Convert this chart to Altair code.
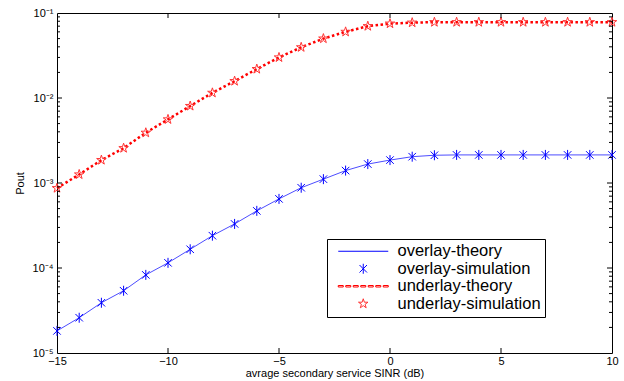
import altair as alt
import pandas as pd

# ---- data ----
snr_db = list(range(-15, 11))
overlay_pout = [1.82e-5, 2.6e-5, 3.9e-5, 5.4e-5, 8.3e-5, 1.15e-4, 1.66e-4, 2.4e-4,
                3.3e-4, 4.7e-4, 6.5e-4, 8.8e-4, 1.11e-3, 1.40e-3, 1.67e-3, 1.86e-3,
                2.04e-3, 2.12e-3, 2.14e-3, 2.14e-3, 2.14e-3, 2.14e-3, 2.14e-3,
                2.14e-3, 2.14e-3, 2.14e-3]
underlay_pout = [8.7e-4, 1.26e-3, 1.86e-3, 2.57e-3, 3.9e-3, 5.6e-3, 8.05e-3, 1.15e-2,
                 1.58e-2, 2.19e-2, 3.0e-2, 3.95e-2, 5.0e-2, 6.0e-2, 7.0e-2, 7.5e-2,
                 7.7e-2, 7.8e-2, 7.8e-2, 7.8e-2, 7.8e-2, 7.8e-2, 7.8e-2, 7.8e-2,
                 7.8e-2, 7.8e-2]
series_names = ["overlay-theory", "overlay-simulation", "underlay-theory", "underlay-simulation"]
x_major_ticks = [-15, -10, -5, 0, 5, 10]
y_major_ticks = [1e-5, 1e-4, 1e-3, 1e-2, 1e-1]
y_minor_ticks = [m * 10.0 ** e for e in range(-5, -1) for m in range(2, 10)]

W, H = 555, 340
FONT = "Liberation Sans"

overlay_df = pd.DataFrame({"x": snr_db, "y": overlay_pout, "series": "overlay-simulation"})
underlay_df = pd.DataFrame({"x": snr_db, "y": underlay_pout, "series": "underlay-simulation"})
points_df = pd.concat([overlay_df, underlay_df], ignore_index=True)

xscale = alt.Scale(domain=[-15, 10], nice=False, zero=False)
yscale = alt.Scale(type="log", domain=[1e-5, 1e-1], nice=False)

sup = ("datum.value < 5e-5 ? '\u2075' : datum.value < 5e-4 ? '\u2074' : "
       "datum.value < 5e-3 ? '\u00b3' : datum.value < 5e-2 ? '\u00b2' : '\u00b9'")

xaxis = alt.Axis(values=x_major_ticks, title="avrage secondary service SINR (dB)",
                 ticks=False, domain=False, grid=False, labelPadding=2, labelFlush=False,
                 labelFont=FONT, labelFontSize=11, labelColor="black",
                 titleFont=FONT, titleFontSize=11, titleFontWeight="normal",
                 titleColor="black", titlePadding=1)
yaxis = alt.Axis(values=y_major_ticks, title="Pout", ticks=False, domain=False, grid=False,
                 labelExpr="'10\u207b' + (" + sup + ")", labelFlush=False,
                 labelPadding=4, labelFont=FONT, labelFontSize=11, labelColor="black",
                 titleFont=FONT, titleFontSize=11, titleFontWeight="normal",
                 titleColor="black", titlePadding=7)

line_path = "M-5,0L5,0"
asterisk_path = "M0,-1L0,1M-0.75,-0.75L0.75,0.75M-0.75,0.75L0.75,-0.75"
dash_path = ("M-5,-0.15H-4V0.15H-5Z M-3.5,-0.15H-2.5V0.15H-3.5Z M-2,-0.15H-1V0.15H-2Z "
             "M-0.5,-0.15H0.5V0.15H-0.5Z M1,-0.15H2V0.15H1Z M2.5,-0.15H3.5V0.15H2.5Z "
             "M4,-0.15H5V0.15H4Z")
star_path = ("M0,-1L0.2245,-0.309L0.951,-0.309L0.3633,0.118L0.588,0.809L0,0.382"
             "L-0.588,0.809L-0.3633,0.118L-0.951,-0.309L-0.2245,-0.309Z")

X = lambda f: alt.X(f, scale=xscale, axis=xaxis)
Y = lambda f: alt.Y(f, scale=yscale, axis=yaxis)

blue_line = alt.Chart(overlay_df).mark_line(color="#0000ff", strokeWidth=1, opacity=0.7).encode(
    x=X("x:Q"), y=Y("y:Q"),
)
red_line = alt.Chart(underlay_df).mark_line(color="#ff0000", strokeWidth=2.5,
                                             strokeDash=[2.5, 2.5]).encode(
    x=X("x:Q"), y=Y("y:Q"),
)

points = alt.Chart(points_df).mark_point(filled=False, size=100, opacity=1, strokeWidth=1).encode(
    x=X("x:Q"), y=Y("y:Q"),
    color=alt.Color("series:N",
                    scale=alt.Scale(domain=series_names,
                                    range=["#0000ff", "#0000ff", "#ff0000", "#ff3333"]),
                    legend=alt.Legend(title=None, orient="none", legendX=270, legendY=226,
                                      strokeColor="black", fillColor="white", padding=4,
                                      symbolOffset=24, labelOffset=26, rowPadding=0.5,
                                      labelFont=FONT, labelFontSize=16.5, labelColor="black",
                                      symbolSize=100, symbolStrokeWidth=1)),
    shape=alt.Shape("series:N",
                    scale=alt.Scale(domain=series_names,
                                    range=[line_path, asterisk_path, dash_path, star_path])),
)

tick_style = dict(color="black", strokeWidth=1)
ymaj_df = pd.DataFrame({"y": y_major_ticks[1:-1]})
ymin_df = pd.DataFrame({"y": y_minor_ticks})
xmaj_df = pd.DataFrame({"x": x_major_ticks[1:-1]})

ticks = [
    alt.Chart(ymaj_df).mark_rule(**tick_style).encode(
        y=Y("y:Q"), x=alt.value(0), x2=alt.value(5)),
    alt.Chart(ymaj_df).mark_rule(**tick_style).encode(
        y=Y("y:Q"), x=alt.value(W), x2=alt.value(W - 5)),
    alt.Chart(ymin_df).mark_rule(**tick_style).encode(
        y=Y("y:Q"), x=alt.value(0), x2=alt.value(3)),
    alt.Chart(ymin_df).mark_rule(**tick_style).encode(
        y=Y("y:Q"), x=alt.value(W), x2=alt.value(W - 3)),
    alt.Chart(xmaj_df).mark_rule(**tick_style).encode(
        x=X("x:Q"), y=alt.value(H), y2=alt.value(H - 5)),
    alt.Chart(xmaj_df).mark_rule(**tick_style).encode(
        x=X("x:Q"), y=alt.value(0), y2=alt.value(5)),
]

chart = alt.layer(blue_line, red_line, points, *ticks).properties(
    width=W, height=H,
    autosize=alt.AutoSizeParams(type="none"),
    padding={"left": 57, "top": 13, "right": 12, "bottom": 28},
    background="white",
).configure_view(stroke="black", strokeWidth=1)

chart.save("out.html", embed_options={"renderer": "svg", "actions": False})
